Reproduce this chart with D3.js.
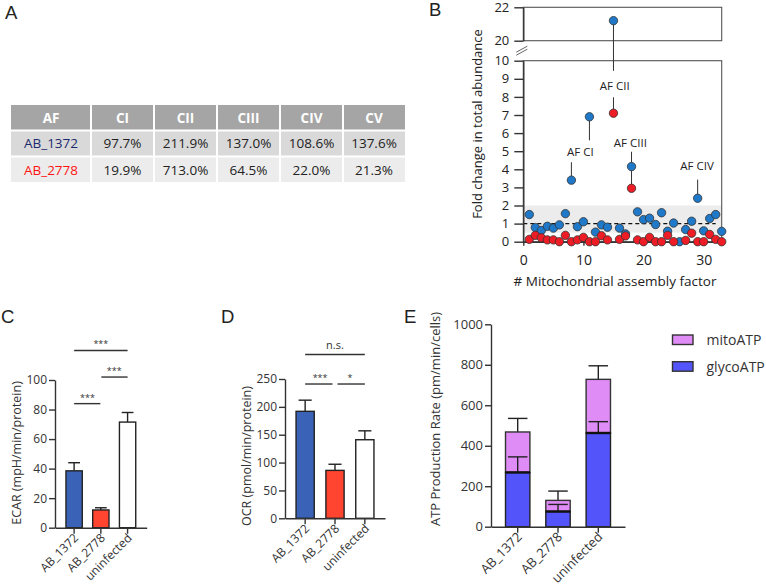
<!DOCTYPE html>
<html>
<head>
<meta charset="utf-8">
<script src="https://cdn.jsdelivr.net/npm/d3@7"></script>
<style>
  body { margin: 0; background: #fff; }
  text { font-family: "Open Sans", sans-serif; fill: #222; }
  .letter { font-family: "Liberation Sans", Arial, sans-serif; font-size: 18.5px; }
  .axis path, .axis line { stroke: #333; stroke-width: 1.4; }
</style>
</head>
<body>
<svg id="fig" width="766" height="586"></svg>
<script>
// ---- panel A: table
const tableCols = ['AF', 'CI', 'CII', 'CIII', 'CIV', 'CV']
const tableRows = ['AB_1372', 'AB_2778']
const tableVals = [
  ['97.7%', '211.9%', '137.0%', '108.6%', '137.6%'],
  ['19.9%', '713.0%', '64.5%', '22.0%', '21.3%']
]

// ---- panel B: fold change per assembly factor (index 1..33)
const afIndex = d3.range(1, 34)
const foldAB1372 = [1.5, 0.78, 0.62, 0.85, 0.75, 0.93, 1.55, 3.4, 0.83, 1.1, 6.9, 0.53, 0.93, 0.8, 21.2, 0.75, 0.43,
  4.15, 1.65, 1.22, 1.3, 0.95, 1.6, 0.58, 1.03, 0, 0.67, 1.13, 2.4, 0.6, 1.28, 1.5, 0.57]
const foldAB2778 = [0.13, 0.35, 0.22, 0.1, 0.1, 0, 0.35, 0, 0.1, 0.24, 0, 0, 0.33, 0.1, 7.1, 0.13, 0.32,
  2.95, 0.1, 0, 0.24, 0, 0, 0.35, 0, null, 0.07, 0.47, 0, 0, 0.4, 0.13, 0]
// labels: text, label centre (x, value), stems [x, from, to]
const afNotes = [
  { text: 'AF CI', x: 9.5, y: 4.98, stems: [[11, 6.9, 5.6], [8, 4.39, 3.6]] },
  { text: 'AF CII', x: 15.2, y: 8.6, stems: [[15, 21.2, 9.44], [15, 7.98, 7.3]] },
  { text: 'AF CIII', x: 17.8, y: 5.48, stems: [[18, 4.97, 4.36], [18, 4.15, 2.95]] },
  { text: 'AF CIV', x: 28.9, y: 4.17, stems: [[29, 3.43, 2.6]] }
]

// ---- panels C, D, E
const strains = ['AB_1372', 'AB_2778', 'uninfected']
const ecarMean = [38.5, 12, 71.5]
const ecarErr = [5.5, 1.5, 6.5]
const ocrMean = [192, 86, 141]
const ocrErr = [20, 11, 16]
const glycoATP = [268, 75, 463]
const glycoErr = [77, 35, 56]
const mitoATP = [200, 55, 265]
const mitoErr = [67, 46, 67]
const ecarSig = [{ a: 0, b: 1, y: 84, t: '***' }, { a: 1, b: 2, y: 102, t: '***' }, { a: 0, b: 2, y: 120, t: '***' }]
const ocrSig = [{ a: 0, b: 1, y: 241, t: '***' }, { a: 1, b: 2, y: 241, t: '*' }, { a: 0, b: 2, y: 294, t: 'n.s.' }]

const strainFill = ['#3a63b8', '#ff4530', '#ffffff']
const svg = d3.select('#fig')
const intFmt = d3.format('d')

// panel letters
const letters = [['A', 5, 19], ['B', 429, 16], ['C', 1, 323], ['D', 221, 323], ['E', 404, 323]]
svg.selectAll('text.letter').data(letters).join('text')
  .attr('class', 'letter').attr('x', d => d[1]).attr('y', d => d[2]).text(d => d[0])

/**
 * Panel A
 */
function drawTable () {
  const colEdges = [11, 91, 154, 217, 280, 343, 405]
  const rowEdges = [105, 130.5, 156.5, 183]
  const fills = ['#a5a5a5', '#d9d9d9', '#ececec']
  const g = svg.append('g')
  const cells = []
  for (let r = 0; r < 3; r++) {
    for (let c = 0; c < 6; c++) {
      let txt, color, weight
      if (r === 0) { txt = tableCols[c]; color = '#fff'; weight = 'bold' }
      else if (c === 0) { txt = tableRows[r - 1]; color = r === 1 ? '#1c2a6e' : '#ff1414'; weight = 'normal' }
      else { txt = tableVals[r - 1][c - 1]; color = '#222'; weight = 'normal' }
      cells.push({ r, c, txt, color, weight })
    }
  }
  g.selectAll('rect').data(cells).join('rect')
    .attr('x', d => colEdges[d.c] + (d.c ? 1 : 0))
    .attr('width', d => colEdges[d.c + 1] - colEdges[d.c] - (d.c ? 1 : 0) - (d.c < 5 ? 1 : 0))
    .attr('y', d => rowEdges[d.r] + (d.r ? 1 : 0))
    .attr('height', d => rowEdges[d.r + 1] - rowEdges[d.r] - (d.r ? 1 : 0) - 1)
    .attr('fill', d => fills[d.r])
  g.selectAll('text').data(cells).join('text')
    .attr('x', d => (colEdges[d.c] + colEdges[d.c + 1]) / 2)
    .attr('y', d => (rowEdges[d.r] + rowEdges[d.r + 1]) / 2)
    .attr('dy', '0.36em')
    .attr('text-anchor', 'middle')
    .style('font-size', '13.5px')
    .style('font-weight', d => d.weight)
    .style('fill', d => d.color)
    .text(d => d.txt)
}

/**
 * Panel B: broken-axis scatter
 */
function drawScatter () {
  const x = d3.scaleLinear().domain([0, 33]).range([523.3, 721.7])
  const yLow = d3.scaleLinear().domain([0, 10]).range([241.7, 60.7])
  const yTop = d3.scaleLinear().domain([20, 22]).range([40.7, 7.3])
  const y = v => (v >= 20 ? yTop(v) : yLow(v))
  const g = svg.append('g')

  // grey band 0.5 - 2
  g.append('rect')
    .attr('x', x(0)).attr('width', x(33) - x(0))
    .attr('y', yLow(2)).attr('height', yLow(0.5) - yLow(2))
    .attr('fill', '#ececec')

  // frames
  g.append('rect').attr('x', x(0)).attr('y', yLow(10)).attr('width', x(33) - x(0)).attr('height', yLow(0) - yLow(10))
    .attr('fill', 'none').attr('stroke', '#555').attr('stroke-width', 1.1)
  g.append('rect').attr('x', x(0)).attr('y', yTop(22)).attr('width', x(33) - x(0)).attr('height', yTop(20) - yTop(22))
    .attr('fill', 'none').attr('stroke', '#555').attr('stroke-width', 1.1)

  // dashed line at 1
  g.append('line').attr('x1', x(0)).attr('x2', x(32)).attr('y1', yLow(1)).attr('y2', yLow(1))
    .attr('stroke', '#111').attr('stroke-width', 1.2).attr('stroke-dasharray', '4,3')

  const axLow = g.append('g').attr('class', 'axis').attr('transform', `translate(${x(0)},0)`)
    .call(d3.axisLeft(yLow).tickValues(d3.range(0, 11)).tickSize(9).tickPadding(5).tickSizeOuter(0))
  const axTop = g.append('g').attr('class', 'axis').attr('transform', `translate(${x(0)},0)`)
    .call(d3.axisLeft(yTop).tickValues([20, 22]).tickFormat(intFmt).tickSize(9).tickPadding(5).tickSizeOuter(0))
  const axX = g.append('g').attr('class', 'axis').attr('transform', `translate(0,${yLow(0)})`)
    .call(d3.axisBottom(x).tickValues([0, 10, 20, 30]).tickSize(4).tickPadding(9).tickSizeOuter(0))
  for (const ax of [axLow, axTop, axX]) {
    ax.selectAll('path, line').attr('stroke', '#555').attr('stroke-width', 1.1)
  }
  axLow.selectAll('text').style('font-size', '13px').style('fill', '#222')
  axTop.selectAll('text').style('font-size', '13px').style('fill', '#222')
  axX.selectAll('text').style('font-size', '14px').style('fill', '#222')

  // axis break
  const bx = x(0)
  const by = (yTop(20) + yLow(10)) / 2
  ;[-1.5, 1.5].forEach(off => {
    g.append('line').attr('x1', bx - 7).attr('y1', by + 3 + off).attr('x2', bx + 4).attr('y2', by - 3 + off)
      .attr('stroke', '#555').attr('stroke-width', 0.9)
  })

  // stems and labels
  afNotes.forEach(n => {
    n.stems.forEach(s => {
      g.append('line').attr('x1', x(s[0])).attr('x2', x(s[0])).attr('y1', y(s[1])).attr('y2', y(s[2]))
        .attr('stroke', '#333').attr('stroke-width', 1)
    })
    g.append('text').attr('x', x(n.x)).attr('y', yLow(n.y)).attr('dy', '0.35em')
      .attr('text-anchor', 'middle').style('font-size', '11.5px').text(n.text)
  })

  const pts = []
  afIndex.forEach((i, k) => {
    pts.push({ i, v: foldAB1372[k], fill: '#1f78c8' })
  })
  afIndex.forEach((i, k) => {
    if (foldAB2778[k] !== null) pts.push({ i, v: foldAB2778[k], fill: '#ee1c25' })
  })
  g.selectAll('circle').data(pts).join('circle')
    .attr('cx', d => x(d.i)).attr('cy', d => y(d.v)).attr('r', 4.2)
    .attr('fill', d => d.fill).attr('stroke', '#333').attr('stroke-width', 0.8)

  g.append('text').attr('transform', `translate(482,124) rotate(-90)`)
    .attr('text-anchor', 'middle').style('font-size', '13px').text('Fold change in total abundance')
  g.append('text').attr('x', 615).attr('y', 286)
    .attr('text-anchor', 'middle').style('font-size', '13.5px').text('# Mitochondrial assembly factor')
}

/**
 * Common bar-panel axes
 */
function barAxes (g, xb, yScale, ticks, y0, labelSize, title, titleX, titleY, titleSize) {
  const ay = g.append('g').attr('class', 'axis').attr('transform', `translate(${xb.range()[0]},0)`)
    .call(d3.axisLeft(yScale).tickValues(ticks).tickFormat(intFmt).tickSize(6).tickPadding(2).tickSizeOuter(0))
  ay.selectAll('text').style('font-size', labelSize).style('fill', '#333')
  const ax = g.append('g').attr('class', 'axis').attr('transform', `translate(0,${y0})`)
    .call(d3.axisBottom(xb).tickSize(6).tickFormat('').tickSizeOuter(0))
  ax.selectAll('.tick').remove()
  g.selectAll('.xtick').data(strains).join('line').attr('class', 'xtick')
    .attr('x1', d => xb(d) + xb.bandwidth() / 2).attr('x2', d => xb(d) + xb.bandwidth() / 2)
    .attr('y1', y0).attr('y2', y0 + 6).attr('stroke', '#333').attr('stroke-width', 1.4)
  g.selectAll('.xlab').data(strains).join('text').attr('class', 'xlab')
    .attr('transform', d => `translate(${xb(d) + xb.bandwidth() / 2 + 5},${y0 + 11}) rotate(-45)`)
    .attr('text-anchor', 'end').style('font-size', labelSize).style('fill', '#333').text(d => d)
  g.append('text').attr('transform', `translate(${titleX},${titleY}) rotate(-90)`)
    .attr('text-anchor', 'middle').style('font-size', titleSize).style('fill', '#333').text(title)
}

function errBar (g, cx, yTopVal, yErrVal, half) {
  g.append('line').attr('x1', cx).attr('x2', cx).attr('y1', yTopVal).attr('y2', yErrVal)
    .attr('stroke', '#222').attr('stroke-width', 1.4)
  g.append('line').attr('x1', cx - half).attr('x2', cx + half).attr('y1', yErrVal).attr('y2', yErrVal)
    .attr('stroke', '#222').attr('stroke-width', 1.4)
}

function drawSimpleBars (cfg) {
  const g = svg.append('g')
  const xb = d3.scaleBand().domain(strains).range(cfg.xr).paddingInner(0.39).paddingOuter(cfg.po)
  const yS = d3.scaleLinear().domain([0, cfg.max]).range(cfg.yr)
  const y0 = yS(0)
  strains.forEach((s, i) => {
    const cx = xb(s) + xb.bandwidth() / 2
    errBar(g, cx, yS(cfg.mean[i]), yS(cfg.mean[i] + cfg.err[i]), xb.bandwidth() * 0.36)
  })
  g.selectAll('rect').data(strains).join('rect')
    .attr('x', d => xb(d)).attr('width', xb.bandwidth())
    .attr('y', (d, i) => yS(cfg.mean[i])).attr('height', (d, i) => y0 - yS(cfg.mean[i]))
    .attr('fill', (d, i) => strainFill[i]).attr('stroke', '#222').attr('stroke-width', 1.4)
  barAxes(g, xb, yS, cfg.ticks, y0, '12px', cfg.title, cfg.tx, cfg.ty, '12.5px')
  // significance
  cfg.sig.forEach(s => {
    const ca = xb(strains[s.a]) + xb.bandwidth() / 2
    const cb = xb(strains[s.b]) + xb.bandwidth() / 2
    const inset = (s.b - s.a === 1) ? cfg.inset : 0
    g.append('line').attr('x1', ca + (s.a > 0 ? inset : 0)).attr('x2', cb - (s.b < 2 ? inset : 0))
      .attr('y1', yS(s.y)).attr('y2', yS(s.y)).attr('stroke', '#333').attr('stroke-width', 1.4)
    g.append('text').attr('x', (ca + cb) / 2).attr('y', yS(s.y) - (s.t === 'n.s.' ? 5 : 3))
      .attr('text-anchor', 'middle').style('font-size', s.t === 'n.s.' ? '11px' : '9px')
      .style('fill', '#333').text(s.t)
  })
}

function drawStacked () {
  const g = svg.append('g')
  const xb = d3.scaleBand().domain(strains).range([491, 625]).paddingInner(0.395).paddingOuter(0.36)
  const yS = d3.scaleLinear().domain([0, 1000]).range([526.7, 324.3])
  const y0 = yS(0)
  const half = xb.bandwidth() * 0.4
  strains.forEach((s, i) => {
    const cx = xb(s) + xb.bandwidth() / 2
    const total = glycoATP[i] + mitoATP[i]
    errBar(g, cx, yS(total), yS(total + mitoErr[i]), half)
    g.append('rect').attr('x', xb(s)).attr('width', xb.bandwidth())
      .attr('y', yS(total)).attr('height', yS(glycoATP[i]) - yS(total))
      .attr('fill', '#e08cf6').attr('stroke', '#333').attr('stroke-width', 1.4)
    errBar(g, cx, yS(glycoATP[i]), yS(glycoATP[i] + glycoErr[i]), half)
    g.append('rect').attr('x', xb(s)).attr('width', xb.bandwidth())
      .attr('y', yS(glycoATP[i])).attr('height', y0 - yS(glycoATP[i]))
      .attr('fill', '#5454fb').attr('stroke', '#222').attr('stroke-width', 1.4)
    g.append('line').attr('x1', xb(s)).attr('x2', xb(s) + xb.bandwidth())
      .attr('y1', yS(glycoATP[i])).attr('y2', yS(glycoATP[i])).attr('stroke', '#111').attr('stroke-width', 2.4)
  })
  barAxes(g, xb, yS, d3.range(0, 1001, 200), y0, '13px', 'ATP Production Rate (pm/min/cells)', 440, 419, '13px')

  const legend = [['mitoATP', '#e08cf6'], ['glycoATP', '#5454fb']]
  const lg = g.selectAll('.leg').data(legend).join('g').attr('class', 'leg')
    .attr('transform', (d, i) => `translate(672.5,${335 + i * 26.7})`)
  lg.append('rect').attr('width', 20.5).attr('height', 9.5).attr('fill', d => d[1])
    .attr('stroke', '#333').attr('stroke-width', 1.4)
  lg.append('text').attr('x', 34).attr('y', 5).attr('dy', '0.36em').style('font-size', '14px')
    .style('fill', '#333').text(d => d[0])
}

drawTable()
drawScatter()
drawSimpleBars({
  xr: [55, 146.7], po: 0.41, yr: [527.7, 380], max: 100, ticks: d3.range(0, 101, 20),
  mean: ecarMean, err: ecarErr, sig: ecarSig, inset: 0.5,
  title: 'ECAR (mpH/min/protein)', tx: 21, ty: 453
})
drawSimpleBars({
  xr: [285, 385], po: 0.37, yr: [518.3, 379], max: 250, ticks: d3.range(0, 251, 50),
  mean: ocrMean, err: ocrErr, sig: ocrSig, inset: 2.5,
  title: 'OCR (pmol/min/protein)', tx: 251, ty: 456
})
drawStacked()
</script>
</body>
</html>
